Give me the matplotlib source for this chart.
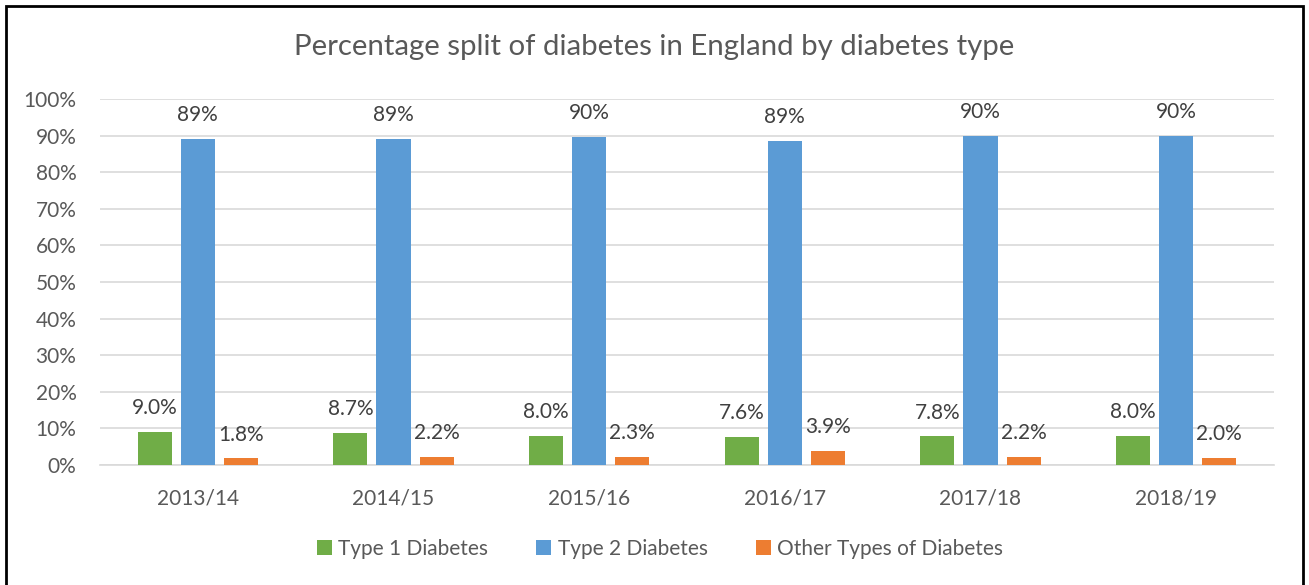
import matplotlib
matplotlib.use("Agg")
import matplotlib.pyplot as plt
import numpy as np
from matplotlib.patches import Rectangle

categories = ["2013/14", "2014/15", "2015/16", "2016/17", "2017/18", "2018/19"]
type1 = [9.0, 8.7, 8.0, 7.6, 7.8, 8.0]
type2 = [89.2, 89.1, 89.7, 88.5, 90.0, 90.0]
other = [1.8, 2.2, 2.3, 3.9, 2.2, 2.0]
type1_labels = ["9.0%", "8.7%", "8.0%", "7.6%", "7.8%", "8.0%"]
type2_labels = ["89%", "89%", "90%", "89%", "90%", "90%"]
other_labels = ["1.8%", "2.2%", "2.3%", "3.9%", "2.2%", "2.0%"]
series_names = ["Type 1 Diabetes", "Type 2 Diabetes", "Other Types of Diabetes"]
colors = ["#70AD47", "#5B9BD5", "#ED7D31"]

plt.rcParams['font.family'] = ['Lato', 'DejaVu Sans']
txt = "#595959"

fig = plt.figure(figsize=(13.09, 5.85), dpi=100)
ax = fig.add_axes([100/1309, 1-465/585, 1174/1309, 366/585])

x = np.arange(len(categories))
w = 0.174
step = 0.22
series = [type1, type2, other]
labels = [type1_labels, type2_labels, other_labels]
for i, (vals, labs, c, name) in enumerate(zip(series, labels, colors, series_names)):
    pos = x + (i - 1) * step
    ax.bar(pos, vals, width=w, color=c, label=name, zorder=3)
    for p, v, l in zip(pos, vals, labs):
        ax.annotate(l, (p, v), xytext=(0, 10), textcoords="offset points",
                    ha="center", va="bottom", fontsize=15, color="#404040")

ax.set_xlim(-0.5, len(categories) - 0.5)
ax.set_ylim(0, 100)
ax.set_yticks(np.arange(0, 101, 10))
ax.set_yticklabels([f"{v}%" for v in range(0, 101, 10)])
ax.set_xticks(x)
ax.set_xticklabels(categories)
ax.tick_params(axis="both", length=0, labelsize=15, labelcolor=txt)
ax.tick_params(axis="x", pad=17)
ax.tick_params(axis="y", pad=17)
ax.grid(axis="y", color="#D9D9D9", linewidth=1.2, zorder=0)
for s in ["top", "right", "left"]:
    ax.spines[s].set_visible(False)
ax.spines["bottom"].set_color("#D9D9D9")
ax.spines["bottom"].set_linewidth(1.2)

fig.text(654/1309, 1-47/585, "Percentage split of diabetes in England by diabetes type",
         ha="center", va="center", fontsize=21.2, color=txt)

leg = fig.legend(loc="center", bbox_to_anchor=(660/1309, 1-549/585), ncol=3,
                 frameon=False, fontsize=15, handlelength=0.72, handleheight=0.72,
                 columnspacing=2.3, handletextpad=0.3)
for t in leg.get_texts():
    t.set_color(txt)

fig.patches.append(Rectangle((6/1309, -0.05), 1297/1309, 1.05 - 6/585,
                             transform=fig.transFigure, fill=False,
                             edgecolor="black", linewidth=2))

fig.savefig("out.png", dpi=100)
